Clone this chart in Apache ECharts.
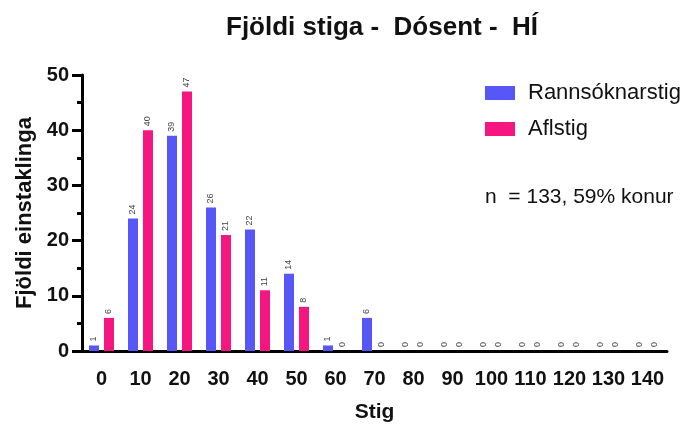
<!DOCTYPE html>
<html>
<head>
<meta charset="utf-8">
<script src="https://cdn.jsdelivr.net/npm/echarts@6/dist/echarts.min.js"></script>
<style>
  html, body { margin: 0; padding: 0; background: #fff; }
  #chart { width: 692px; height: 424px; }
</style>
</head>
<body>
<div id="chart"></div>
<script>
// categories (Stig)
const stigBins = ['0', '10', '20', '30', '40', '50', '60', '70', '80', '90', '100', '110', '120', '130', '140'];
// Rannsóknarstig
const rannsoknarstig = [1, 24, 39, 26, 22, 14, 1, 6, 0, 0, 0, 0, 0, 0, 0];
// Aflstig
const aflstig = [6, 40, 47, 21, 11, 8, 0, 0, 0, 0, 0, 0, 0, 0, 0];

const font = '"Liberation Sans", Arial, sans-serif';
const barLabel = {
  show: true,
  position: 'top',
  rotate: 90,
  align: 'left',
  verticalAlign: 'middle',
  distance: 4,
  fontSize: 9,
  color: '#444',
  fontFamily: font
};

const chart = echarts.init(document.getElementById('chart'));
chart.setOption({
  animation: false,
  backgroundColor: '#fff',
  title: [
    {
      text: 'Fjöldi stiga -  Dósent -  HÍ',
      left: 377, top: 10, textAlign: 'center',
      textStyle: { fontFamily: font, fontSize: 26, fontWeight: 'bold', color: '#111' }
    },
    {
      text: 'n  = 133, 59% konur',
      left: 480, top: 182,
      textStyle: { fontFamily: font, fontSize: 21, fontWeight: 'normal', color: '#111' }
    }
  ],
  legend: {
    orient: 'vertical',
    left: 480, top: 77,
    itemWidth: 30, itemHeight: 14, itemGap: 14,
    icon: 'rect',
    textStyle: { fontFamily: font, fontSize: 22, lineHeight: 22, color: '#111', padding: [0, 0, 0, 8] },
    data: ['Rannsóknarstig', 'Aflstig']
  },
  grid: { left: 82, right: 25, top: 75, bottom: 73, containLabel: false, outerBoundsMode: 'none' },
  xAxis: {
    type: 'category',
    data: stigBins,
    name: 'Stig',
    nameLocation: 'middle',
    nameGap: 51,
    nameTextStyle: { fontFamily: font, fontSize: 21, fontWeight: 'bold', color: '#111' },
    axisLine: { lineStyle: { color: '#000', width: 3 } },
    axisTick: { alignWithLabel: true, interval: 0, length: 10, lineStyle: { width: 3, color: '#000' } },
    axisLabel: { interval: 0, hideOverlap: false, fontFamily: font, fontSize: 20, fontWeight: 'bold', color: '#111', margin: 18 }
  },
  yAxis: {
    type: 'value',
    min: 0, max: 50, interval: 10,
    name: 'Fjöldi einstaklinga',
    nameLocation: 'middle',
    nameGap: 46,
    nameTextStyle: { fontFamily: font, fontSize: 22, fontWeight: 'bold', color: '#111' },
    axisLine: { show: true, lineStyle: { color: '#000', width: 3 } },
    axisTick: { show: true, length: 10, lineStyle: { width: 3, color: '#000' } },
    minorTick: { show: true, splitNumber: 2, length: 5, lineStyle: { width: 3, color: '#000' } },
    splitLine: { show: false },
    axisLabel: { fontFamily: font, fontSize: 20, fontWeight: 'bold', color: '#111', margin: 13 }
  },
  series: [
    {
      name: 'Rannsóknarstig',
      type: 'bar',
      data: rannsoknarstig,
      barWidth: 10,
      barGap: '50%',
      itemStyle: { color: '#5757f7' },
      label: barLabel
    },
    {
      name: 'Aflstig',
      type: 'bar',
      data: aflstig,
      barWidth: 10,
      itemStyle: { color: '#f5167f' },
      label: barLabel
    }
  ]
});
</script>
</body>
</html>
